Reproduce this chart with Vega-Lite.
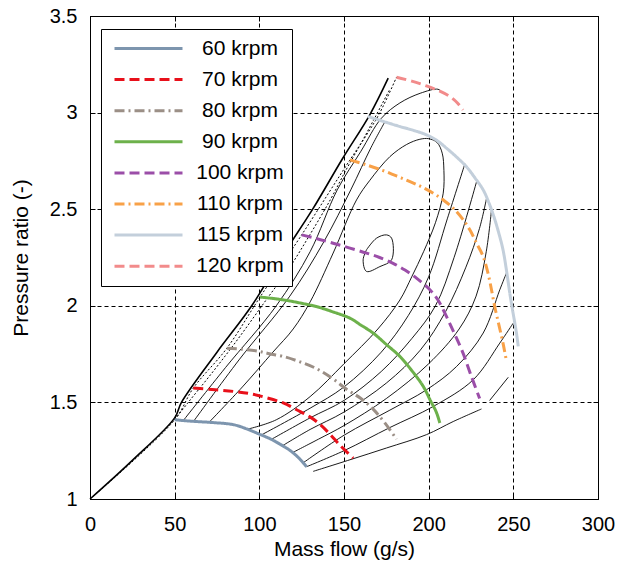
{
"$schema":"https://vega.github.io/schema/vega-lite/v6.json",
"width":508,"height":483,
"autosize":{"type":"none"},
"padding":{"left":90,"top":16,"right":19,"bottom":68},
"config":{
 "font":"Liberation Sans",
 "view":{"stroke":"#000","strokeWidth":1},
 "axis":{"domain":false,"tickColor":"#000","tickSize":-5,"tickWidth":1,"labelColor":"#000","labelFontSize":20,"labelFont":"Liberation Sans","titleFont":"Liberation Sans","titleColor":"#000","titleFontSize":21,"titleFontWeight":"normal","gridColor":"#000","gridOpacity":1,"gridDash":[4,3],"gridWidth":1,"labelOverlap":false,"labelFlush":false}
},
"resolve":{"axis":{"x":"independent","y":"independent"}},
"datasets":{
"speeds":[
{"s":"60 krpm","i":0,"x":50,"y":1.41},{"s":"60 krpm","i":1,"x":61,"y":1.402},{"s":"60 krpm","i":2,"x":72,"y":1.396},{"s":"60 krpm","i":3,"x":84.6,"y":1.385},{"s":"60 krpm","i":4,"x":92.5,"y":1.363},{"s":"60 krpm","i":5,"x":99.4,"y":1.338},{"s":"60 krpm","i":6,"x":106.3,"y":1.312},{"s":"60 krpm","i":7,"x":112,"y":1.285},{"s":"60 krpm","i":8,"x":118,"y":1.252},{"s":"60 krpm","i":9,"x":123,"y":1.215},{"s":"60 krpm","i":10,"x":127.9,"y":1.167},
{"s":"70 krpm","i":0,"x":61,"y":1.574},{"s":"70 krpm","i":1,"x":72,"y":1.567},{"s":"70 krpm","i":2,"x":84.6,"y":1.557},{"s":"70 krpm","i":3,"x":94.5,"y":1.545},{"s":"70 krpm","i":4,"x":104,"y":1.525},{"s":"70 krpm","i":5,"x":114.1,"y":1.497},{"s":"70 krpm","i":6,"x":122,"y":1.462},{"s":"70 krpm","i":7,"x":129.9,"y":1.425},{"s":"70 krpm","i":8,"x":136,"y":1.385},{"s":"70 krpm","i":9,"x":141.7,"y":1.335},{"s":"70 krpm","i":10,"x":148,"y":1.275},{"s":"70 krpm","i":11,"x":155.4,"y":1.212},
{"s":"80 krpm","i":0,"x":80.8,"y":1.78},{"s":"80 krpm","i":1,"x":90,"y":1.775},{"s":"80 krpm","i":2,"x":99.4,"y":1.765},{"s":"80 krpm","i":3,"x":106,"y":1.752},{"s":"80 krpm","i":4,"x":114.1,"y":1.738},{"s":"80 krpm","i":5,"x":124,"y":1.71},{"s":"80 krpm","i":6,"x":133.7,"y":1.675},{"s":"80 krpm","i":7,"x":143,"y":1.625},{"s":"80 krpm","i":8,"x":151.5,"y":1.568},{"s":"80 krpm","i":9,"x":160,"y":1.52},{"s":"80 krpm","i":10,"x":167.2,"y":1.465},{"s":"80 krpm","i":11,"x":174,"y":1.395},{"s":"80 krpm","i":12,"x":181,"y":1.31},
{"s":"90 krpm","i":0,"x":100.4,"y":2.045},{"s":"90 krpm","i":1,"x":108,"y":2.038},{"s":"90 krpm","i":2,"x":116,"y":2.028},{"s":"90 krpm","i":3,"x":125,"y":2.013},{"s":"90 krpm","i":4,"x":133.7,"y":1.996},{"s":"90 krpm","i":5,"x":143,"y":1.97},{"s":"90 krpm","i":6,"x":153.5,"y":1.936},{"s":"90 krpm","i":7,"x":160,"y":1.9},{"s":"90 krpm","i":8,"x":167.2,"y":1.859},{"s":"90 krpm","i":9,"x":175,"y":1.8},{"s":"90 krpm","i":10,"x":183,"y":1.738},{"s":"90 krpm","i":11,"x":190,"y":1.665},{"s":"90 krpm","i":12,"x":196.8,"y":1.583},{"s":"90 krpm","i":13,"x":201,"y":1.51},{"s":"90 krpm","i":14,"x":204.5,"y":1.45},{"s":"90 krpm","i":15,"x":206.6,"y":1.393},
{"s":"100 krpm","i":0,"x":125,"y":2.367},{"s":"100 krpm","i":1,"x":133,"y":2.35},{"s":"100 krpm","i":2,"x":143.6,"y":2.324},{"s":"100 krpm","i":3,"x":153,"y":2.3},{"s":"100 krpm","i":4,"x":163.3,"y":2.273},{"s":"100 krpm","i":5,"x":171,"y":2.25},{"s":"100 krpm","i":6,"x":179,"y":2.22},{"s":"100 krpm","i":7,"x":186,"y":2.185},{"s":"100 krpm","i":8,"x":192.8,"y":2.143},{"s":"100 krpm","i":9,"x":200.7,"y":2.083},{"s":"100 krpm","i":10,"x":205.5,"y":2.03},{"s":"100 krpm","i":11,"x":210.5,"y":1.945},{"s":"100 krpm","i":12,"x":215,"y":1.86},{"s":"100 krpm","i":13,"x":220.3,"y":1.755},{"s":"100 krpm","i":14,"x":225,"y":1.64},{"s":"100 krpm","i":15,"x":230.1,"y":1.52},
{"s":"110 krpm","i":0,"x":153.5,"y":2.755},{"s":"110 krpm","i":1,"x":163,"y":2.73},{"s":"110 krpm","i":2,"x":173.1,"y":2.7},{"s":"110 krpm","i":3,"x":181,"y":2.672},{"s":"110 krpm","i":4,"x":189,"y":2.643},{"s":"110 krpm","i":5,"x":196,"y":2.615},{"s":"110 krpm","i":6,"x":202.7,"y":2.583},{"s":"110 krpm","i":7,"x":209,"y":2.545},{"s":"110 krpm","i":8,"x":214.5,"y":2.505},{"s":"110 krpm","i":9,"x":220,"y":2.45},{"s":"110 krpm","i":10,"x":224.3,"y":2.393},{"s":"110 krpm","i":11,"x":228.5,"y":2.32},{"s":"110 krpm","i":12,"x":232.2,"y":2.255},{"s":"110 krpm","i":13,"x":235,"y":2.17},{"s":"110 krpm","i":14,"x":237.1,"y":2.083},{"s":"110 krpm","i":15,"x":239,"y":1.996},{"s":"110 krpm","i":16,"x":241.5,"y":1.9},{"s":"110 krpm","i":17,"x":243.9,"y":1.807},{"s":"110 krpm","i":18,"x":245.6,"y":1.73},
{"s":"115 krpm","i":0,"x":164.1,"y":2.98},{"s":"115 krpm","i":1,"x":173,"y":2.955},{"s":"115 krpm","i":2,"x":183,"y":2.928},{"s":"115 krpm","i":3,"x":191,"y":2.908},{"s":"115 krpm","i":4,"x":198.7,"y":2.885},{"s":"115 krpm","i":5,"x":205,"y":2.855},{"s":"115 krpm","i":6,"x":210.5,"y":2.816},{"s":"115 krpm","i":7,"x":216.5,"y":2.77},{"s":"115 krpm","i":8,"x":222.3,"y":2.72},{"s":"115 krpm","i":9,"x":227.5,"y":2.66},{"s":"115 krpm","i":10,"x":232.2,"y":2.6},{"s":"115 krpm","i":11,"x":235.5,"y":2.535},{"s":"115 krpm","i":12,"x":238.5,"y":2.462},{"s":"115 krpm","i":13,"x":241.3,"y":2.38},{"s":"115 krpm","i":14,"x":243.9,"y":2.29},{"s":"115 krpm","i":15,"x":246,"y":2.18},{"s":"115 krpm","i":16,"x":247.9,"y":2.066},{"s":"115 krpm","i":17,"x":249.5,"y":1.98},{"s":"115 krpm","i":18,"x":250.9,"y":1.91},{"s":"115 krpm","i":19,"x":252,"y":1.85},{"s":"115 krpm","i":20,"x":252.9,"y":1.79},
{"s":"120 krpm","i":0,"x":181,"y":3.183},{"s":"120 krpm","i":1,"x":190,"y":3.163},{"s":"120 krpm","i":2,"x":198.7,"y":3.138},{"s":"120 krpm","i":3,"x":206,"y":3.113},{"s":"120 krpm","i":4,"x":212.5,"y":3.083},{"s":"120 krpm","i":5,"x":217,"y":3.05},{"s":"120 krpm","i":6,"x":220.3,"y":3.014}
],
"cont":[
{"c":"T","i":0,"x":55,"y":1.405},{"c":"T","i":1,"x":80,"y":1.68},{"c":"T","i":2,"x":110,"y":2.0},{"c":"T","i":3,"x":130,"y":2.28},{"c":"T","i":4,"x":146,"y":2.6},{"c":"T","i":5,"x":160,"y":2.8},{"c":"T","i":6,"x":172,"y":2.97},{"c":"T","i":7,"x":183,"y":3.05},{"c":"T","i":8,"x":195,"y":3.1},{"c":"T","i":9,"x":205.5,"y":3.121},{"c":"T","i":10,"x":208,"y":3.105},
{"c":"Lb","i":0,"x":61,"y":1.4},{"c":"Lb","i":1,"x":88,"y":1.72},{"c":"Lb","i":2,"x":118,"y":2.05},{"c":"Lb","i":3,"x":138,"y":2.33},{"c":"Lb","i":4,"x":154,"y":2.6},{"c":"Lb","i":5,"x":166,"y":2.82},{"c":"Lb","i":6,"x":174,"y":2.95},
{"c":"B","i":0,"x":70,"y":1.394},{"c":"B","i":1,"x":90,"y":1.58},{"c":"B","i":2,"x":108,"y":1.76},{"c":"B","i":3,"x":120,"y":1.88},{"c":"B","i":4,"x":130,"y":2.02},{"c":"B","i":5,"x":143.6,"y":2.273},{"c":"B","i":6,"x":157.4,"y":2.548},{"c":"B","i":7,"x":165.3,"y":2.65},{"c":"B","i":8,"x":177.1,"y":2.772},{"c":"B","i":9,"x":187,"y":2.835},{"c":"B","i":10,"x":194.8,"y":2.862},{"c":"B","i":11,"x":200,"y":2.865},{"c":"B","i":12,"x":205,"y":2.845},{"c":"B","i":13,"x":208,"y":2.79},{"c":"B","i":14,"x":209,"y":2.7},{"c":"B","i":15,"x":208.6,"y":2.583},{"c":"B","i":16,"x":204,"y":2.43},{"c":"B","i":17,"x":197,"y":2.28},{"c":"B","i":18,"x":190,"y":2.15},{"c":"B","i":19,"x":183,"y":2.03},{"c":"B","i":20,"x":170,"y":1.88},{"c":"B","i":21,"x":150,"y":1.7},{"c":"B","i":22,"x":130,"y":1.53},{"c":"B","i":23,"x":110,"y":1.41},{"c":"B","i":24,"x":93.3,"y":1.362},
{"c":"R2","i":0,"x":101.5,"y":1.333},{"c":"R2","i":1,"x":130,"y":1.47},{"c":"R2","i":2,"x":150,"y":1.58},{"c":"R2","i":3,"x":172,"y":1.76},{"c":"R2","i":4,"x":188,"y":1.95},{"c":"R2","i":5,"x":200,"y":2.15},{"c":"R2","i":6,"x":211,"y":2.45},{"c":"R2","i":7,"x":221.4,"y":2.735},
{"c":"R3","i":0,"x":107.4,"y":1.31},{"c":"R3","i":1,"x":130,"y":1.42},{"c":"R3","i":2,"x":150,"y":1.51},{"c":"R3","i":3,"x":172,"y":1.66},{"c":"R3","i":4,"x":190,"y":1.83},{"c":"R3","i":5,"x":204,"y":2.0},{"c":"R3","i":6,"x":215,"y":2.25},{"c":"R3","i":7,"x":228.3,"y":2.643},
{"c":"R4","i":0,"x":113.9,"y":1.277},{"c":"R4","i":1,"x":130,"y":1.36},{"c":"R4","i":2,"x":150,"y":1.45},{"c":"R4","i":3,"x":175,"y":1.6},{"c":"R4","i":4,"x":195,"y":1.77},{"c":"R4","i":5,"x":210,"y":1.97},{"c":"R4","i":6,"x":222,"y":2.2},{"c":"R4","i":7,"x":230,"y":2.4},{"c":"R4","i":8,"x":234.2,"y":2.557},
{"c":"R5","i":0,"x":119.8,"y":1.241},{"c":"R5","i":1,"x":135,"y":1.31},{"c":"R5","i":2,"x":150,"y":1.38},{"c":"R5","i":3,"x":175,"y":1.52},{"c":"R5","i":4,"x":200,"y":1.7},{"c":"R5","i":5,"x":218,"y":1.88},{"c":"R5","i":6,"x":228,"y":2.05},{"c":"R5","i":7,"x":234,"y":2.28},{"c":"R5","i":8,"x":237.1,"y":2.497},
{"c":"R6","i":0,"x":125.7,"y":1.186},{"c":"R6","i":1,"x":150,"y":1.33},{"c":"R6","i":2,"x":177.1,"y":1.46},{"c":"R6","i":3,"x":198.7,"y":1.565},{"c":"R6","i":4,"x":216.5,"y":1.686},{"c":"R6","i":5,"x":232.2,"y":1.859},{"c":"R6","i":6,"x":242,"y":2.083},{"c":"R6","i":7,"x":245.9,"y":2.169},
{"c":"R7","i":0,"x":127.9,"y":1.167},{"c":"R7","i":1,"x":150,"y":1.25},{"c":"R7","i":2,"x":177.1,"y":1.37},{"c":"R7","i":3,"x":202.7,"y":1.479},{"c":"R7","i":4,"x":226.3,"y":1.617},{"c":"R7","i":5,"x":242,"y":1.807},{"c":"R7","i":6,"x":249.9,"y":1.91},
{"c":"A","i":0,"x":131.8,"y":1.143},{"c":"A","i":1,"x":153.5,"y":1.203},{"c":"A","i":2,"x":175.1,"y":1.264},{"c":"A","i":3,"x":198.7,"y":1.333},{"c":"A","i":4,"x":214.5,"y":1.401},{"c":"A","i":5,"x":231.2,"y":1.466},
{"c":"Sh","i":0,"x":236,"y":1.51},{"c":"Sh","i":1,"x":247,"y":1.63},
{"c":"I","i":0,"x":163.3,"y":2.29},{"c":"I","i":1,"x":169.2,"y":2.35},{"c":"I","i":2,"x":175.1,"y":2.367},{"c":"I","i":3,"x":178.1,"y":2.35},{"c":"I","i":4,"x":178.1,"y":2.238},{"c":"I","i":5,"x":171.2,"y":2.203},{"c":"I","i":6,"x":163.3,"y":2.178},{"c":"I","i":7,"x":161.3,"y":2.238},{"c":"I","i":8,"x":163.3,"y":2.29}
],
"surge":[
{"c":"S","i":0,"x":0,"y":1},{"c":"S","i":1,"x":25,"y":1.2},{"c":"S","i":2,"x":50,"y":1.42},{"c":"S","i":3,"x":54,"y":1.5},{"c":"S","i":4,"x":75,"y":1.76},{"c":"S","i":5,"x":95.5,"y":2.0},{"c":"S","i":6,"x":113,"y":2.25},{"c":"S","i":7,"x":131.5,"y":2.5},{"c":"S","i":8,"x":149,"y":2.76},{"c":"S","i":9,"x":165.3,"y":2.99},{"c":"S","i":10,"x":176.1,"y":3.178}
],
"dots":[
{"c":"D1","i":0,"x":0,"y":1},{"c":"D1","i":1,"x":50,"y":1.41},{"c":"D1","i":2,"x":61,"y":1.574},{"c":"D1","i":3,"x":80.8,"y":1.78},{"c":"D1","i":4,"x":100.4,"y":2.045},{"c":"D1","i":5,"x":125,"y":2.367},{"c":"D1","i":6,"x":153.5,"y":2.755},{"c":"D1","i":7,"x":163,"y":2.88},{"c":"D1","i":8,"x":171.2,"y":3.0},{"c":"D1","i":9,"x":181,"y":3.183},
{"c":"D2","i":0,"x":50,"y":1.41},{"c":"D2","i":1,"x":58,"y":1.5},{"c":"D2","i":2,"x":70,"y":1.63},{"c":"D2","i":3,"x":85,"y":1.8},{"c":"D2","i":4,"x":104,"y":2.03},{"c":"D2","i":5,"x":118,"y":2.2},{"c":"D2","i":6,"x":130,"y":2.37},{"c":"D2","i":7,"x":142,"y":2.55},{"c":"D2","i":8,"x":151,"y":2.7},{"c":"D2","i":9,"x":160,"y":2.84},{"c":"D2","i":10,"x":168,"y":2.97},{"c":"D2","i":11,"x":177,"y":3.12}
]
},
"layer":[
{"data":{"name":"cont"},"mark":{"type":"line","stroke":"#000","strokeWidth":0.9,"interpolate":"catmull-rom"},
 "encoding":{
  "x":{"field":"x","type":"quantitative","scale":{"domain":[0,300],"nice":false,"zero":false},"axis":{"values":[0,50,100,150,200,250,300],"grid":true,"title":"Mass flow (g/s)","labelPadding":20,"titlePadding":4}},
  "y":{"field":"y","type":"quantitative","scale":{"domain":[1,3.5],"nice":false,"zero":false},"axis":{"values":[1,1.5,2,2.5,3,3.5],"format":"~g","grid":true,"title":"Pressure ratio (-)","labelPadding":18,"titlePadding":18}},
  "detail":{"field":"c","type":"nominal"},
  "order":{"field":"i","type":"quantitative"}}},
{"data":{"name":"surge"},"mark":{"type":"line","stroke":"#000","strokeWidth":1.6,"interpolate":"catmull-rom"},
 "encoding":{
  "x":{"field":"x","type":"quantitative","scale":{"domain":[0,300],"nice":false,"zero":false},"axis":null},
  "y":{"field":"y","type":"quantitative","scale":{"domain":[1,3.5],"nice":false,"zero":false},"axis":null},
  "order":{"field":"i","type":"quantitative"}}},
{"data":{"name":"dots"},"mark":{"type":"line","stroke":"#000","strokeWidth":1,"strokeDash":[2,2],"interpolate":"catmull-rom"},
 "encoding":{
  "x":{"field":"x","type":"quantitative","scale":{"domain":[0,300],"nice":false,"zero":false},"axis":null},
  "y":{"field":"y","type":"quantitative","scale":{"domain":[1,3.5],"nice":false,"zero":false},"axis":null},
  "detail":{"field":"c","type":"nominal"},
  "order":{"field":"i","type":"quantitative"}}},
{"data":{"name":"surge"},"mark":{"type":"line","opacity":0},
 "encoding":{
  "x":{"field":"x","type":"quantitative","scale":{"domain":[0,300],"nice":false,"zero":false},"axis":{"orient":"top","values":[0,50,100,150,200,250,300],"labels":false,"grid":false,"title":null}},
  "y":{"field":"y","type":"quantitative","scale":{"domain":[1,3.5],"nice":false,"zero":false},"axis":{"orient":"right","values":[1,1.5,2,2.5,3,3.5],"labels":false,"grid":false,"title":null}}}},
{"data":{"name":"speeds"},"mark":{"type":"line","strokeWidth":3,"interpolate":"catmull-rom"},
 "encoding":{
  "x":{"field":"x","type":"quantitative","scale":{"domain":[0,300],"nice":false,"zero":false},"axis":null},
  "y":{"field":"y","type":"quantitative","scale":{"domain":[1,3.5],"nice":false,"zero":false},"axis":null},
  "color":{"field":"s","type":"nominal",
    "scale":{"domain":["60 krpm","70 krpm","80 krpm","90 krpm","100 krpm","110 krpm","115 krpm","120 krpm"],"range":["#7d95ae","#e8101a","#9b8f86","#6db14b","#9b4ea8","#f8a148","#c3cfdb","#f28b8b"]},
    "legend":{"title":null,"orient":"none","legendX":11,"legendY":13,"symbolType":"stroke","symbolSize":4624,"symbolStrokeWidth":3,"symbolOffset":4,"clipHeight":23,"rowPadding":8.1,"padding":8,"labelFontSize":21,"labelFont":"Liberation Sans","labelAlign":"center","labelOffset":56,"labelLimit":0,"strokeColor":"#000","fillColor":"#fff","labelColor":"#000"}},
  "strokeDash":{"field":"s","type":"nominal",
    "scale":{"domain":["60 krpm","70 krpm","80 krpm","90 krpm","100 krpm","110 krpm","115 krpm","120 krpm"],"range":[[1,0],[10,5],[10,4,2,4],[1,0],[10,5],[10,4,2,4],[1,0],[10,5]]},
    "legend":{"title":null,"orient":"none","legendX":11,"legendY":13,"symbolType":"stroke","symbolSize":4624,"symbolStrokeWidth":3,"symbolOffset":4,"clipHeight":23,"rowPadding":8.1,"padding":8,"labelFontSize":21,"labelFont":"Liberation Sans","labelAlign":"center","labelOffset":56,"labelLimit":0,"strokeColor":"#000","fillColor":"#fff","labelColor":"#000"}},
  "order":{"field":"i","type":"quantitative"}}}
]
}
